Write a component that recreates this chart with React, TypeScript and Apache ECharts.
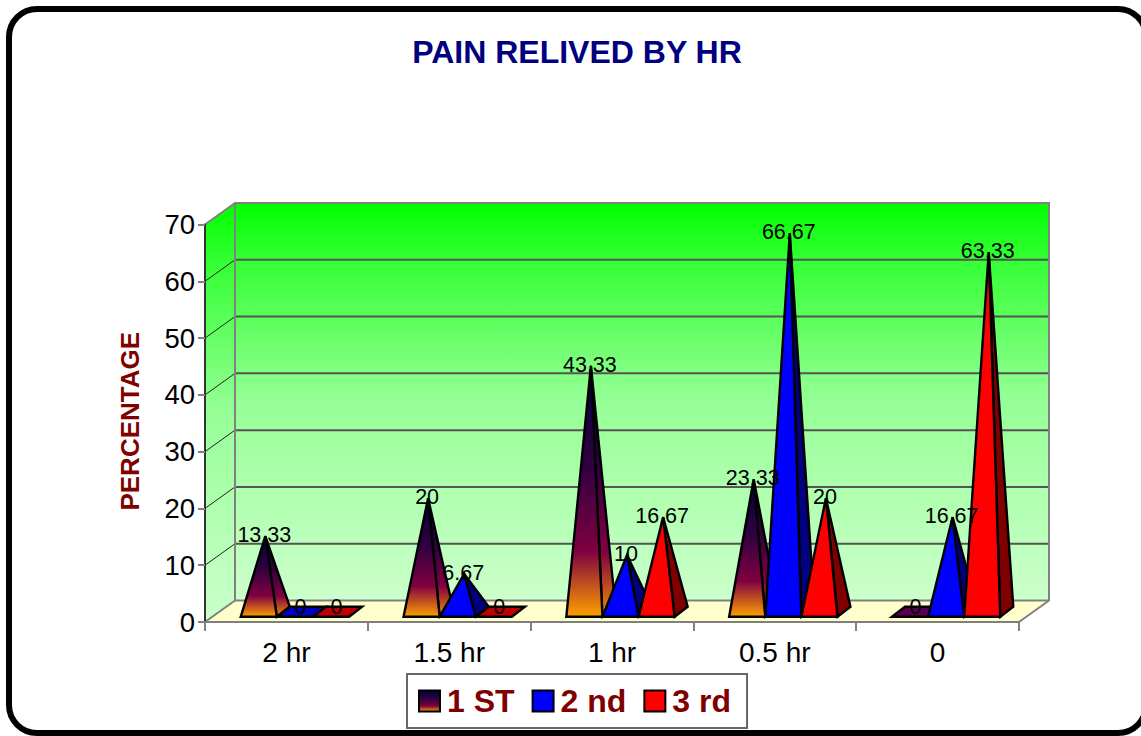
import React, { useEffect, useRef } from "react";
import * as echarts from "echarts";

const categories = ["2 hr", "1.5 hr", "1 hr", "0.5 hr", "0"];
const seriesNames = ["1 ST", "2 nd", "3 rd"];
const firstValues = [13.33, 20, 43.33, 23.33, 0];
const secondValues = [0, 6.67, 10, 66.67, 16.67];
const thirdValues = [0, 0, 16.67, 20, 63.33];
const yTicks = [0, 10, 20, 30, 40, 50, 60, 70];

const sunset = (colors: string[]) =>
  new echarts.graphic.LinearGradient(0, 0, 0, 1, [
    { offset: 0, color: colors[0] },
    { offset: 0.4, color: colors[1] },
    { offset: 0.74, color: colors[2] },
    { offset: 1, color: colors[3] },
  ]);

const faces = [
  { front: () => sunset(["#000040", "#30003f", "#800040", "#FFA000"]), side: () => sunset(["#000030", "#300040", "#800040", "#F09000"]), flat: "#5a0050" },
  { front: () => "#0000FF", side: () => "#000080", flat: "#0000C0" },
  { front: () => "#FF0000", side: () => "#800000", flat: "#C00000" },
];

const DX = 30;
const DY = 21.5;
const FLOOR_Y = 5.2;
const BAR_DX = 13;
const BAR_DY = 10;

function barGeometry(api: any, cat: number, value: number, k: number) {
  const band = api.size([1, 0])[0];
  const base = api.coord([cat, 0]);
  const top = api.coord([cat, value]);
  const w = band * 0.2218;
  const x0 = base[0] - band / 2 + band * 0.2195 + w * k;
  const x1 = x0 + w;
  const y0 = base[1] - FLOOR_Y;
  const apex = [x0 + w / 2 + BAR_DX / 2, top[1] - FLOOR_Y - BAR_DY / 2];
  return { x0, x1, y0, apex };
}

function renderPyramid(k: number) {
  return (params: any, api: any) => {
    const cat = api.value(0);
    const value = api.value(1);
    const { x0, x1, y0, apex } = barGeometry(api, cat, value, k);
    const stroke = { stroke: "#000", lineWidth: 2.4, lineJoin: "miter" };
    if (value === 0) {
      return {
        type: "polygon",
        shape: { points: [[x0, y0], [x1, y0], [x1 + BAR_DX, y0 - BAR_DY], [x0 + BAR_DX, y0 - BAR_DY]] },
        style: { fill: faces[k].flat, ...stroke },
      };
    }
    return {
      type: "group",
      children: [
        { type: "polygon", shape: { points: [[x1, y0], [x1 + BAR_DX, y0 - BAR_DY], apex] }, style: { fill: faces[k].side(), ...stroke } },
        { type: "polygon", shape: { points: [[x0, y0], [x1, y0], apex] }, style: { fill: faces[k].front(), ...stroke } },
      ],
    };
  };
}

function renderLabel(params: any, api: any) {
  const cat = api.value(0);
  const value = api.value(1);
  const k = api.value(2);
  const { apex } = barGeometry(api, cat, value, k);
  return {
    type: "text",
    x: apex[0] - 1,
    y: apex[1] + (value === 0 ? -5 : -1),
    style: { text: String(value), fill: "#000", font: "21.5px 'Liberation Sans'", align: "center", verticalAlign: "middle" },
  };
}

function renderWalls(params: any, api: any) {
  const [xl, y0] = api.coord([0, 0]);
  const band = api.size([1, 0])[0];
  const left = xl - band / 2;
  const right = left + band * categories.length;
  const y70 = api.coord([0, 70])[1];
  const wallFill = () =>
    new echarts.graphic.LinearGradient(0, 0, 0, 1, [
      { offset: 0, color: "#00FF00" },
      { offset: 0.14, color: "#33FF33" },
      { offset: 0.5, color: "#96FF96" },
      { offset: 1, color: "#CCFFCC" },
    ]);
  const gray = { stroke: "#808080", lineWidth: 2 };
  const children: any[] = [
    { type: "polygon", shape: { points: [[left, y0], [left + DX, y0 - DY], [right + DX, y0 - DY], [right, y0]] }, style: { fill: "#FFFFCC" } },
    { type: "polygon", shape: { points: [[left, y70], [left + DX, y70 - DY], [left + DX, y0 - DY], [left, y0]] }, style: { fill: wallFill() } },
    { type: "rect", shape: { x: left + DX, y: y70 - DY, width: right - left, height: y0 - y70 }, style: { fill: wallFill() } },
  ];
  yTicks.slice(1, -1).forEach((t) => {
    const y = api.coord([0, t])[1];
    children.push({ type: "polyline", shape: { points: [[left, y], [left + DX, y - DY]] }, style: { fill: "none", stroke: "#222", lineWidth: 1 } });
    children.push({ type: "line", shape: { x1: left + DX, y1: y - DY, x2: right + DX, y2: y - DY }, style: { stroke: "#555", lineWidth: 2 } });
  });
  children.push({ type: "polyline", shape: { points: [[left, y70], [left + DX, y70 - DY], [right + DX, y70 - DY], [right + DX, y0 - DY], [right, y0]] }, style: { fill: "none", ...gray } });
  children.push({ type: "line", shape: { x1: left + DX, y1: y70 - DY, x2: left + DX, y2: y0 - DY }, style: gray });
  children.push({ type: "line", shape: { x1: left, y1: y0, x2: left + DX, y2: y0 - DY }, style: gray });
  children.push({ type: "line", shape: { x1: left + DX, y1: y0 - DY, x2: right + DX, y2: y0 - DY }, style: gray });
  return { type: "group", children };
}

const valueLists = [firstValues, secondValues, thirdValues];

export default function App() {
  const ref = useRef<HTMLDivElement>(null);
  useEffect(() => {
    document.body.style.margin = "0";
    const chart = echarts.init(ref.current!, undefined, { renderer: "svg" });
    chart.setOption({
      animation: false,
      backgroundColor: "#fff",
      title: {
        text: "PAIN RELIVED BY HR",
        left: 572,
        top: 31,
        textAlign: "center",
        textStyle: { color: "#000080", fontSize: 32, fontWeight: "bold", fontFamily: "Liberation Sans" },
      },
      grid: { left: 205, top: 224.5, width: 814, height: 397.5 },
      xAxis: {
        type: "category",
        data: categories,
        z: 5,
        axisLine: { lineStyle: { color: "#808080", width: 2 } },
        axisTick: { show: true, alignWithLabel: false, length: 9, lineStyle: { color: "#808080", width: 2 } },
        axisLabel: { color: "#000", fontSize: 28, fontFamily: "Liberation Sans", margin: 16 },
      },
      yAxis: {
        type: "value",
        min: 0,
        max: 70,
        interval: 10,
        z: 5,
        name: "PERCENTAGE",
        nameLocation: "middle",
        nameRotate: 90,
        nameGap: 62,
        nameTextStyle: { color: "#800000", fontSize: 26, fontWeight: "bold", fontFamily: "Liberation Sans", padding: [0, 0, 0, 4] },
        axisLine: { show: true, lineStyle: { color: "#333", width: 2 } },
        axisTick: { show: true, length: 7, lineStyle: { color: "#808080", width: 2 } },
        axisLabel: { color: "#000", fontSize: 27.5, fontFamily: "Liberation Sans", margin: 10 },
        splitLine: { show: false },
      },
      legend: {
        left: 407,
        top: 674,
        data: seriesNames.map((name, k) => ({
          name,
          icon: "rect",
          itemStyle: { color: faces[k].front(), borderColor: "#000", borderWidth: 2 },
        })),
        itemWidth: 21,
        itemHeight: 21,
        itemGap: 17,
        padding: [11, 16, 11, 11],
        backgroundColor: "#fff",
        borderColor: "#666",
        borderWidth: 2,
        textStyle: { color: "#800000", fontSize: 32, fontWeight: "bold", fontFamily: "Liberation Sans", padding: [0, 0, 0, 2] },
      },
      graphic: [
        {
          type: "rect",
          z: 100,
          silent: true,
          shape: { x: 9, y: 9, width: 1137, height: 724, r: 28 },
          style: { fill: "none", stroke: "#000", lineWidth: 6 },
        },
      ],
      series: [
        { type: "custom", name: "walls", z: 1, silent: true, coordinateSystem: "cartesian2d", data: [[0, 0]], renderItem: renderWalls, clip: false },
        ...seriesNames.map((name, k) => ({
          type: "custom",
          name,
          z: 2,
          silent: true,
          coordinateSystem: "cartesian2d",
          data: valueLists[k].map((v, i) => [i, v]),
          encode: { x: 0, y: 1 },
          renderItem: renderPyramid(k),
        })),
        {
          type: "custom",
          name: "labels",
          z: 3,
          silent: true,
          coordinateSystem: "cartesian2d",
          data: valueLists.flatMap((list, k) => list.map((v, i) => [i, v, k])),
          encode: { x: 0, y: 1 },
          renderItem: renderLabel,
        },
      ],
    });
    return () => chart.dispose();
  }, []);
  return <div ref={ref} style={{ width: 1141, height: 736 }} />;
}
